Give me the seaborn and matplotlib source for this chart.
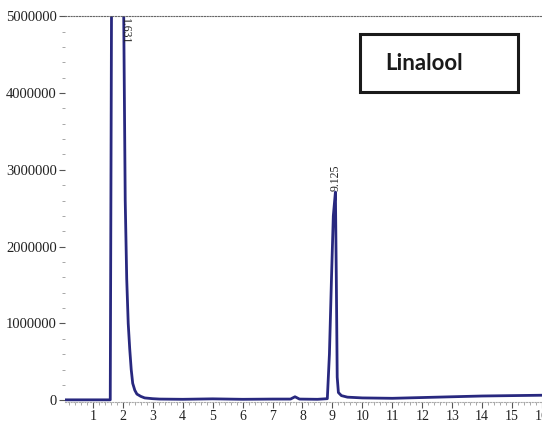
import numpy as np
import pandas as pd
import matplotlib
matplotlib.use("Agg")
import matplotlib.pyplot as plt
from matplotlib.ticker import MultipleLocator
from matplotlib.patches import Rectangle
import seaborn as sns

# retention time (min) and abundance
time = [0.07, 1.00, 1.58, 1.63, 1.66, 1.85, 2.01, 2.03, 2.08, 2.13, 2.18, 2.23,
        2.28, 2.33, 2.40, 2.47, 2.60, 2.73, 3.00, 3.23, 4.00, 5.00, 6.00, 7.00,
        7.60, 7.75, 7.90, 8.50, 8.83, 8.90, 8.97, 9.03, 9.10, 9.13, 9.16, 9.20,
        9.30, 9.50, 10.00, 11.00, 12.00, 13.00, 14.00, 15.00, 16.00]
abundance = [5000, 5000, 5000, 6000000, 9000000, 9500000, 6000000, 5000000, 2600000,
             1580000, 1000000, 670000, 400000, 220000, 130000, 80000, 50000, 30000,
             20000, 15000, 12000, 18000, 12000, 15000, 15000, 45000, 15000, 12000,
             20000, 600000, 1600000, 2400000, 2710000, 1600000, 300000, 100000,
             60000, 40000, 30000, 25000, 35000, 45000, 55000, 60000, 65000]

peak_labels = ["1.631", "9.125"]
peak_label_x = [2.07, 9.10]
xticks = list(range(1, 17))
yticks = [0, 1000000, 2000000, 3000000, 4000000, 5000000]
compound = "Linalool"

df = pd.DataFrame({"time": time, "abundance": abundance})

sns.set_theme(style="white")
plt.rcParams["font.family"] = ["Liberation Serif", "DejaVu Serif"]

fig = plt.figure(figsize=(5.42, 4.26), dpi=100)
ax = fig.add_axes([0.12, 0.056, 0.88, 0.906])

sns.lineplot(data=df, x="time", y="abundance", ax=ax, color="#28287f",
             linewidth=2.0, legend=False)

ax.set_xlim(0.07, 15.97)
ax.set_ylim(-25000, 5000000)
ax.set_xlabel("")
ax.set_ylabel("")
ax.set_xticks(xticks)
ax.set_xticklabels([str(t) for t in xticks], fontsize=10)
ax.set_yticks(yticks)
ax.set_yticklabels([str(t) for t in yticks], fontsize=10.5)
ax.xaxis.set_minor_locator(MultipleLocator(0.2))
ax.yaxis.set_minor_locator(MultipleLocator(200000))
ax.tick_params(axis="both", which="major", direction="out", length=4,
               width=0.8, color="#555555", pad=2, labelcolor="#222222")
ax.tick_params(axis="both", which="minor", direction="out", length=2,
               width=0.6, color="#999999")
ax.tick_params(axis="x", which="major", pad=2)
ax.tick_params(left=True, bottom=True, which="both")

for side in ["left", "right"]:
    ax.spines[side].set_visible(False)
ax.spines["top"].set_linestyle((0, (1, 1.5)))
ax.spines["top"].set_color("#666666")
ax.spines["top"].set_linewidth(0.8)
ax.spines["bottom"].set_linestyle((0, (1, 1.5)))
ax.spines["bottom"].set_color("#aaaaaa")
ax.spines["bottom"].set_linewidth(0.8)

ax.text(peak_label_x[0], 4980000, peak_labels[0], rotation=-90, ha="center",
        va="top", fontsize=8.5, color="#222222")
ax.text(peak_label_x[1], 2730000, peak_labels[1], rotation=90, ha="center",
        va="bottom", fontsize=8.5, color="#222222")

ax.add_patch(Rectangle((0.618, 0.803), 0.332, 0.150, transform=ax.transAxes,
                       facecolor="white", edgecolor="#1a1a1a", linewidth=2.2,
                       zorder=5, clip_on=False))
ax.text(0.671, 0.878, compound, transform=ax.transAxes, ha="left", va="center",
        fontsize=16, fontweight="bold", family=["Lato", "DejaVu Sans"],
        color="#1a1a1a", zorder=6)
fig.savefig("out.png", dpi=100)
